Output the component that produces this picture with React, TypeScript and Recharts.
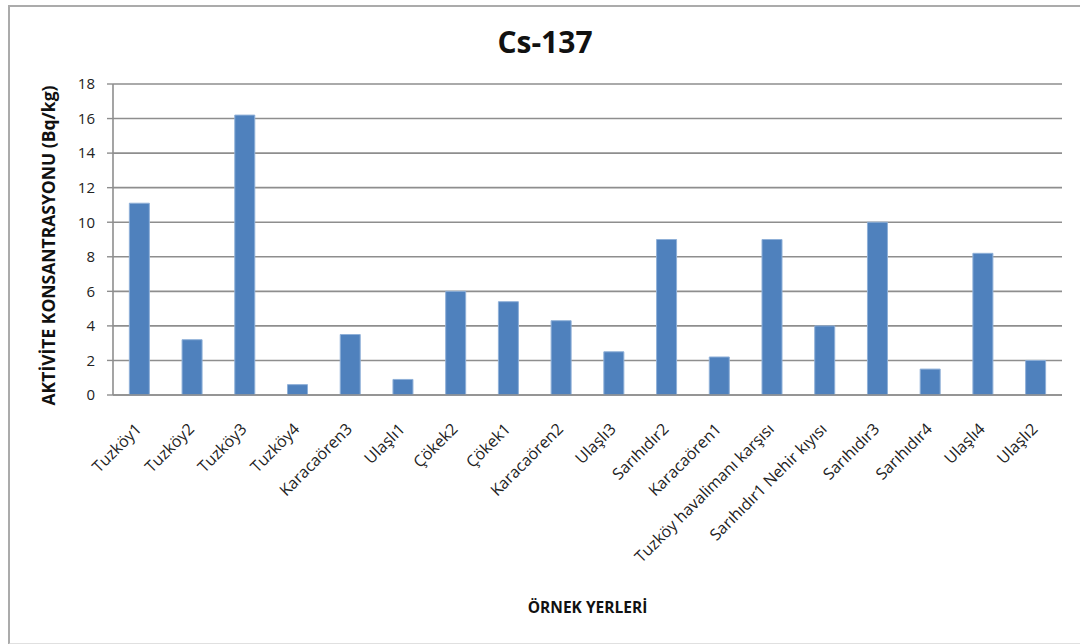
import React from 'react';
import { BarChart, Bar, XAxis, YAxis, CartesianGrid, Label } from 'recharts';

const categories = [
  'Tuzköy1', 'Tuzköy2', 'Tuzköy3', 'Tuzköy4', 'Karacaören3', 'Ulaşlı1', 'Çökek2', 'Çökek1',
  'Karacaören2', 'Ulaşlı3', 'Sarıhıdır2', 'Karacaören1', 'Tuzköy havalimanı  karşısı',
  'Sarıhıdır1 Nehir kıyısı', 'Sarıhıdır3', 'Sarıhıdır4', 'Ulaşlı4', 'Ulaşlı2',
];
const cs137 = [11.1, 3.2, 16.2, 0.6, 3.5, 0.9, 6.0, 5.4, 4.3, 2.5, 9.0, 2.2, 9.0, 4.0, 10.0, 1.5, 8.2, 2.0];
const yTicks = [0, 2, 4, 6, 8, 10, 12, 14, 16, 18];
const boundaryTicks = Array.from({ length: categories.length + 1 }, (_, i) => i);

const title = 'Cs-137';
const xTitle = 'ÖRNEK YERLERİ';
const yTitle = 'AKTİVİTE KONSANTRASYONU  (Bq/kg)';

const data = categories.map((name, i) => ({ name, value: cs137[i] }));

const FONT = '"Open Sans", "Noto Sans", sans-serif';
const GRID = '#8e8e8e';

const YTitle = (props: any) => {
  const vb = props.viewBox || { x: 0, y: 0, width: 0, height: 0 };
  const cy = vb.y + vb.height / 2 + 6;
  const cx = 48;
  return (
    <text
      x={cx}
      y={cy}
      transform={`rotate(-90, ${cx}, ${cy})`}
      textAnchor="middle"
      dominantBaseline="central"
      fontFamily={FONT}
      fontWeight={700}
      fontSize={17.5}
      fill="#111"
    >
      {yTitle}
    </text>
  );
};

const XTitle = (props: any) => {
  const vb = props.viewBox || { x: 0, y: 0, width: 0, height: 0 };
  const cx = vb.x + vb.width / 2;
  return (
    <text x={cx} y={613} textAnchor="middle" fontFamily={FONT} fontWeight={700} fontSize={15.5} fill="#111">
      {xTitle}
    </text>
  );
};

export default function App() {
  return (
    <div style={{ position: 'absolute', left: 0, top: 0, width: 1080, height: 644, background: '#fff', overflow: 'hidden' }}>
      <div
        style={{
          position: 'absolute',
          left: 8,
          top: 5,
          width: 1100,
          height: 636,
          borderTop: '2px solid #ababab',
          borderLeft: '2px solid #ababab',
          borderBottom: '2px solid #e0e0e0',
        }}
      />
      <div
        style={{
          position: 'absolute',
          left: 0,
          width: 1090,
          top: 22,
          textAlign: 'center',
          fontFamily: FONT,
          fontWeight: 700,
          fontSize: 30,
          lineHeight: '40px',
          color: '#111',
        }}
      >
        {title}
      </div>
      <div style={{ position: 'absolute', left: 0, top: 0 }}>
        <BarChart
          width={1080}
          height={644}
          data={data}
          margin={{ top: 84, right: 18, left: 73, bottom: 49 }}
          barCategoryGap="31%"
        >
          <CartesianGrid vertical={false} stroke={GRID} strokeWidth={1.6} />
          <XAxis
            dataKey="name"
            interval={0}
            height={200}
            axisLine={{ stroke: GRID, strokeWidth: 1.6 }}
            tickLine={false}
            angle={-45}
            textAnchor="end"
            tick={{ fontFamily: FONT, fontSize: 16, fill: '#222', dx: -5 }}
            tickMargin={21}
          >
            <Label content={XTitle} />
          </XAxis>
          <XAxis
            xAxisId="b"
            type="number"
            domain={[0, categories.length]}
            ticks={boundaryTicks}
            interval={0}
            height={0}
            axisLine={false}
            tick={false}
            tickSize={6}
            tickLine={{ stroke: GRID, strokeWidth: 1.4 }}
            allowDataOverflow
          />
          <YAxis
            width={40}
            domain={[0, 18]}
            ticks={yTicks}
            interval={0}
            axisLine={{ stroke: GRID, strokeWidth: 1.6 }}
            tickLine={{ stroke: GRID, strokeWidth: 1.4 }}
            tickSize={6}
            tickMargin={12}
            tick={{ fontFamily: FONT, fontSize: 15, fill: '#222' }}
          >
            <Label content={YTitle} />
          </YAxis>
          <Bar dataKey="value" fill="#4F81BD" stroke="#8fb0d8" strokeWidth={1} isAnimationActive={false} />
        </BarChart>
      </div>
    </div>
  );
}
